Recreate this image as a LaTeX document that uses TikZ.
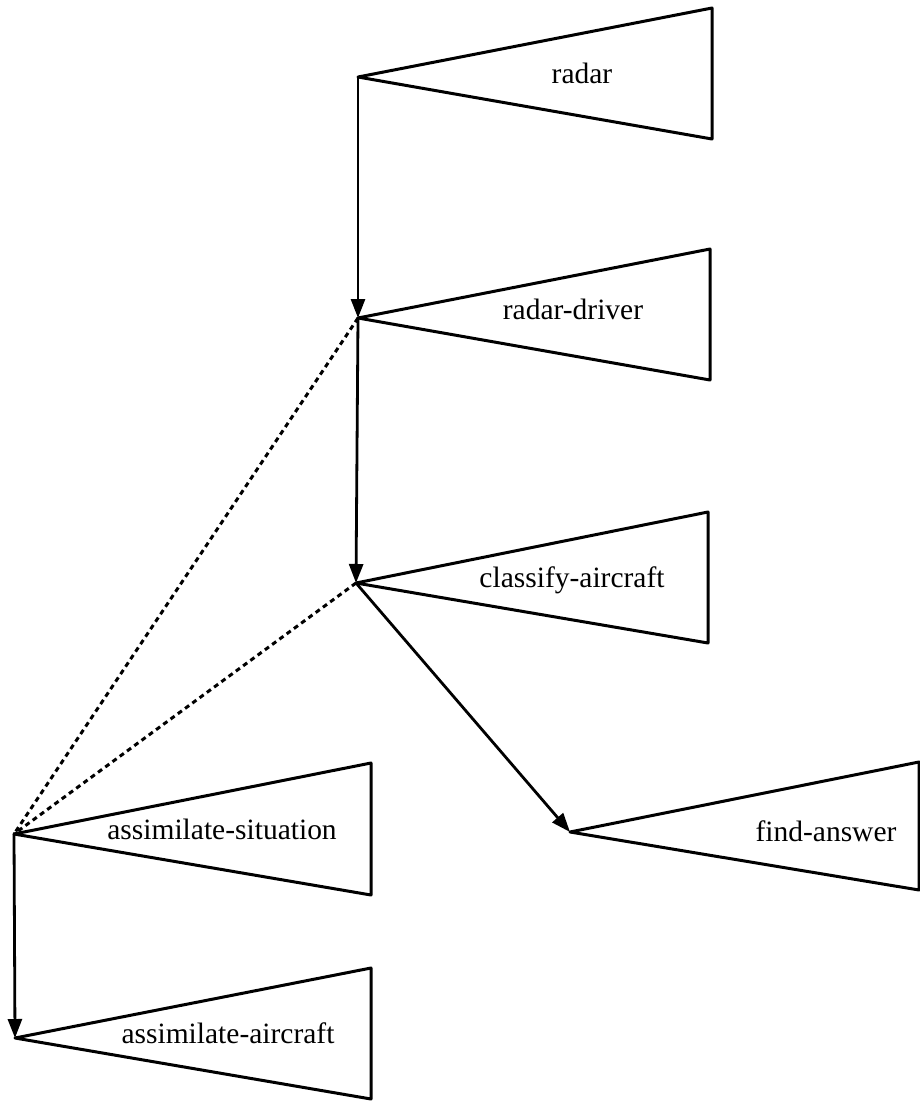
\documentclass[tikz,border=0pt]{standalone}
\usepackage{fontspec}
\setmainfont{Liberation Serif}
\usetikzlibrary{arrows.meta}
\begin{document}
\begin{tikzpicture}[x=1pt,y=-1pt,
  tri/.style={draw=black,line width=3pt,line join=round},
  lbl/.style={font=\fontsize{29.5}{34}\selectfont,inner sep=0pt},
  link/.style={draw=black,line width=2.8pt,-{Triangle[length=19pt,width=14pt]}},
  dotlink/.style={draw=black,line width=3pt,dash pattern=on 5pt off 4pt}]
\useasboundingbox (0,0) rectangle (920,1101);
% apexes
\coordinate (radarA) at (358,77);
\coordinate (driverA) at (358,318);
\coordinate (classA) at (356,583);
\coordinate (sitA) at (14,834);
\coordinate (acA) at (15,1038);
\coordinate (findA) at (570,832);
% triangles
\draw[tri] (radarA) -- (712,8) -- (712,139) -- cycle;
\draw[tri] (driverA) -- (710,249) -- (710,380) -- cycle;
\draw[tri] (classA) -- (708,512) -- (708,643) -- cycle;
\draw[tri] (sitA) -- (371,763) -- (371,895) -- cycle;
\draw[tri] (acA) -- (371,968) -- (371,1099) -- cycle;
\draw[tri] (findA) -- (919,762) -- (919,890) -- cycle;
% labels
\node[lbl] (radarL) at (582,73) {radar};
\node[lbl] (driverL) at (573,309) {radar-driver};
\node[lbl] (classL) at (572,580) {classify-aircraft};
\node[lbl] (sitL) at (222,829) {assimilate-situation};
\node[lbl] (acL) at (228,1033) {assimilate-aircraft};
\node[lbl] (findL) at (826,831) {find-answer};
% connectors
\draw[link] (radarA) -- (driverA);
\draw[link] (driverA) -- (classA);
\draw[link] (classA) -- (findA);
\draw[link] (sitA) -- (acA);
\draw[dotlink] (driverA) -- (sitA);
\draw[dotlink] (classA) -- (sitA);
\end{tikzpicture}
\end{document}
